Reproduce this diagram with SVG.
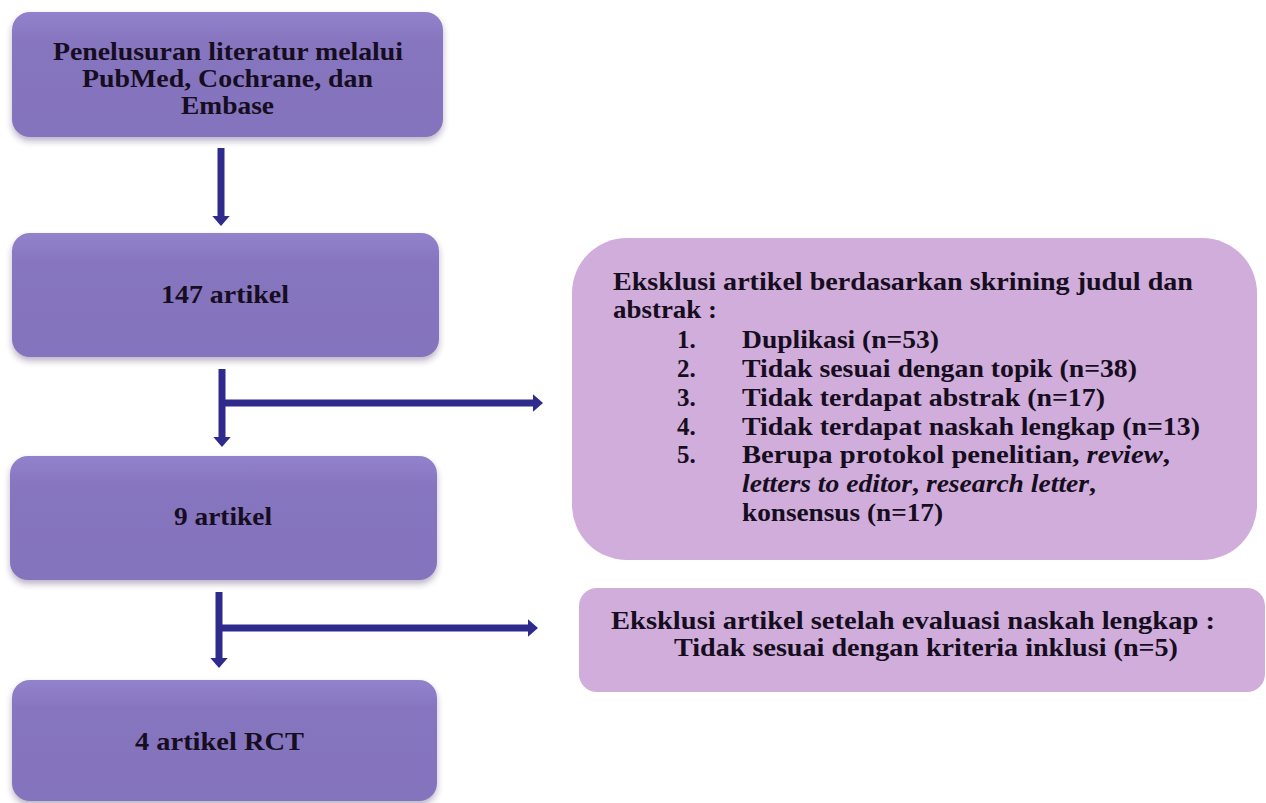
<svg xmlns="http://www.w3.org/2000/svg" width="1266" height="803" viewBox="0 0 1266 803">
<style>
.main{fill:url(#gMain);filter:url(#sh)}
.excl{fill:#D0ADDA}
.t{font-family:"Liberation Serif","Times New Roman",serif;font-weight:bold;font-size:25px;fill:#160d20}
.conn{stroke:#2F2B8C;stroke-width:7;fill:none}
.i{font-style:italic}
</style>
<defs>
<linearGradient id="gMain" x1="0" y1="0" x2="0" y2="1">
<stop offset="0" stop-color="#9282CC"/>
<stop offset="0.25" stop-color="#8674BF"/>
<stop offset="1" stop-color="#8473BD"/>
</linearGradient>
<filter id="sh" x="-5%" y="-10%" width="110%" height="125%">
<feDropShadow dx="0" dy="4" stdDeviation="3" flood-color="#3a2a60" flood-opacity="0.35"/>
</filter>
<marker id="ah" markerWidth="2" markerHeight="3" refX="0.5" refY="1.3" orient="auto" markerUnits="strokeWidth">
<path d="M0,0 L1.5,1.3 L0,2.6 Z" fill="#2F2B8C"/>
</marker>
</defs>

<g id="connectors">
<line class="conn" x1="221" y1="148" x2="221" y2="219" marker-end="url(#ah)"/>
<line class="conn" x1="222" y1="369" x2="222" y2="440" marker-end="url(#ah)"/>
<line class="conn" x1="222" y1="403" x2="536" y2="403" marker-end="url(#ah)"/>
<line class="conn" x1="219" y1="592" x2="219" y2="661" marker-end="url(#ah)"/>
<line class="conn" x1="219" y1="628" x2="531" y2="628" marker-end="url(#ah)"/>
</g>

<g id="node-search">
<rect class="main" x="12" y="12" width="431" height="125" rx="18"/>
<text class="t" x="53" y="60" textLength="350" lengthAdjust="spacingAndGlyphs">Penelusuran literatur melalui</text>
<text class="t" x="82" y="87" textLength="291" lengthAdjust="spacingAndGlyphs">PubMed, Cochrane, dan</text>
<text class="t" x="181" y="114" textLength="93" lengthAdjust="spacingAndGlyphs">Embase</text>
</g>

<g id="node-147">
<rect class="main" x="12" y="233" width="427" height="124" rx="18"/>
<text class="t" x="161" y="303" textLength="128" lengthAdjust="spacingAndGlyphs">147 artikel</text>
</g>

<g id="node-9">
<rect class="main" x="10" y="456" width="427" height="124" rx="18"/>
<text class="t" x="174" y="525" textLength="98" lengthAdjust="spacingAndGlyphs">9 artikel</text>
</g>

<g id="node-rct">
<rect class="main" x="12" y="680" width="425" height="121" rx="18"/>
<text class="t" x="135" y="750" textLength="169" lengthAdjust="spacingAndGlyphs">4 artikel RCT</text>
</g>

<g id="node-excl1">
<rect class="excl" x="572" y="238" width="685" height="322" rx="55"/>
<text class="t" x="613" y="290" textLength="580" lengthAdjust="spacingAndGlyphs">Eksklusi artikel berdasarkan skrining judul dan</text>
<text class="t" x="613" y="318" textLength="104" lengthAdjust="spacingAndGlyphs">abstrak :</text>
<text class="t" x="677" y="348">1.</text>
<text class="t" x="742" y="348" textLength="197" lengthAdjust="spacingAndGlyphs">Duplikasi (n=53)</text>
<text class="t" x="677" y="377">2.</text>
<text class="t" x="742" y="377" textLength="395" lengthAdjust="spacingAndGlyphs">Tidak sesuai dengan topik (n=38)</text>
<text class="t" x="677" y="406">3.</text>
<text class="t" x="742" y="406" textLength="363" lengthAdjust="spacingAndGlyphs">Tidak terdapat abstrak (n=17)</text>
<text class="t" x="677" y="435">4.</text>
<text class="t" x="742" y="435" textLength="458" lengthAdjust="spacingAndGlyphs">Tidak terdapat naskah lengkap (n=13)</text>
<text class="t" x="677" y="463">5.</text>
<text class="t" x="742" y="463" textLength="428" lengthAdjust="spacingAndGlyphs">Berupa protokol penelitian,  <tspan class="i">review</tspan>,</text>
<text class="t" x="742" y="492" textLength="354" lengthAdjust="spacingAndGlyphs"><tspan class="i">letters to editor</tspan>, <tspan class="i">research letter</tspan>,</text>
<text class="t" x="742" y="521" textLength="201" lengthAdjust="spacingAndGlyphs">konsensus (n=17)</text>
</g>

<g id="node-excl2">
<rect class="excl" x="579" y="588" width="686" height="104" rx="18"/>
<text class="t" x="611" y="629" textLength="604" lengthAdjust="spacingAndGlyphs">Eksklusi artikel setelah evaluasi naskah lengkap :</text>
<text class="t" x="674" y="656" textLength="504" lengthAdjust="spacingAndGlyphs">Tidak sesuai dengan kriteria inklusi (n=5)</text>
</g>
</svg>
